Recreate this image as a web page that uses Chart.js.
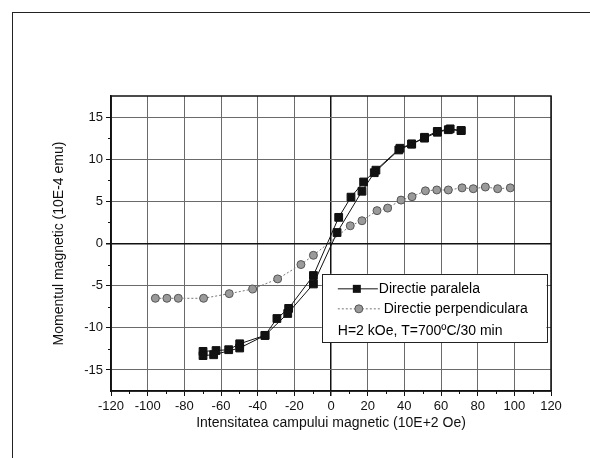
<!DOCTYPE html>
<html>
<head>
<meta charset="utf-8">
<script src="https://cdn.jsdelivr.net/npm/chart.js@4/dist/chart.umd.min.js"></script>
<style>
  html, body { margin: 0; padding: 0; background: #fff; }
  #wrap { position: relative; width: 590px; height: 458px; }
  #frameTop { position: absolute; left: 12px; top: 12px; width: 578px; height: 0; border-top: 1.5px solid #222; }
  #frameLeft { position: absolute; left: 12px; top: 12px; width: 0; height: 446px; border-left: 1.5px solid #222; }
  canvas { position: absolute; left: 0; top: 0; }
</style>
</head>
<body>
<div id="wrap">
  <canvas id="c" width="590" height="458"></canvas>
  <div id="frameTop"></div>
  <div id="frameLeft"></div>
</div>
<script>
// ---- data ----
const paralelaH = [71, 65, 58, 51, 44, 37.6, 24.5, 17.8, 10.9, 4.2, -9.6, -23.1, -29.5, -36, -49.8, -55.8, -62.7, -69.8,
                   -69.8, -64, -49.8, -36, -23.6, -9.6, 3.3, 16.9, 23.6, 37, 44, 51, 58, 64, 71];
const paralelaM = [13.4, 13.6, 13.3, 12.6, 11.8, 11.3, 8.7, 7.3, 5.5, 3.1, -3.8, -7.7, -8.9, -10.9, -11.9, -12.6, -12.7, -12.8,
                   -13.3, -13.2, -12.4, -10.9, -8.3, -4.8, 1.3, 6.2, 8.4, 11.1, 11.8, 12.5, 13.2, 13.5, 13.4];
const perpH = [-95.8, -89.5, -83.3, -69.5, -55.5, -42.7, -29.1, -16.4, -9.6, 10.5, 16.9, 25.1, 30.9, 38.2, 44.2, 51.5, 57.7, 64, 71.5, 77.6, 84.2, 90.9, 97.8];
const perpM = [-6.5, -6.5, -6.5, -6.5, -5.95, -5.4, -4.2, -2.5, -1.4, 2.1, 2.7, 3.9, 4.2, 5.15, 5.55, 6.25, 6.35, 6.35, 6.6, 6.5, 6.7, 6.5, 6.6];
const seriesNames = ['Directie paralela', 'Directie perpendiculara'];
const legendNote = 'H=2 kOe, T=700\u00BAC/30 min';
const xTitle = 'Intensitatea campului magnetic (10E+2 Oe)';
const yTitle = 'Momentul magnetic (10E-4 emu)';
const xTickValues = [-120, -100, -80, -60, -40, -20, 0, 20, 40, 60, 80, 100, 120];
const yTickValues = [-15, -10, -5, 0, 5, 10, 15];
const xMinorTicks = [-110, -90, -70, -50, -30, -10, 10, 30, 50, 70, 90, 110];
const yMinorTicks = [-12.5, -7.5, -2.5, 2.5, 7.5, 12.5];

const FONT = "'Liberation Sans', Arial, sans-serif";
const toPts = (xs, ys) => xs.map((x, i) => ({x: x, y: ys[i]}));

const framePlugin = {
  id: 'framePlugin',
  afterDraw(chart) {
    const ctx = chart.ctx, a = chart.chartArea;
    const xs = chart.scales.x, ys = chart.scales.y;
    ctx.save();
    ctx.strokeStyle = '#111';
    ctx.lineWidth = 1.5;
    ctx.strokeRect(a.left, a.top, a.right - a.left, a.bottom - a.top);
    ctx.lineWidth = 1;
    ctx.beginPath();
    xMinorTicks.forEach(v => {
      const p = Math.round(xs.getPixelForValue(v)) + 0.5;
      ctx.moveTo(p, a.bottom); ctx.lineTo(p, a.bottom + 3);
    });
    yMinorTicks.forEach(v => {
      const p = Math.round(ys.getPixelForValue(v)) + 0.5;
      ctx.moveTo(a.left, p); ctx.lineTo(a.left - 3, p);
    });
    ctx.stroke();

    // legend box inside plot
    const L = xs.getPixelForValue(-5), R = xs.getPixelForValue(117.5);
    const T = ys.getPixelForValue(-3.6), B = ys.getPixelForValue(-11.7);
    ctx.fillStyle = '#fff';
    ctx.fillRect(L, T, R - L, B - T);
    ctx.strokeStyle = '#222';
    ctx.lineWidth = 1;
    ctx.strokeRect(Math.round(L) + 0.5, Math.round(T) + 0.5, Math.round(R - L), Math.round(B - T));
    const ds = chart.data.datasets;
    const rowY = [T + 15, T + 35, T + 57];
    ctx.font = '14px ' + FONT;
    ctx.textBaseline = 'middle';
    ctx.textAlign = 'left';
    // row 1
    ctx.strokeStyle = ds[0].borderColor; ctx.lineWidth = 1; ctx.setLineDash([]);
    ctx.beginPath(); ctx.moveTo(L + 16, rowY[0]); ctx.lineTo(L + 56, rowY[0]); ctx.stroke();
    ctx.fillStyle = ds[0].pointBackgroundColor;
    const s = 4;
    ctx.fillRect(L + 35 - s, rowY[0] - s, 2 * s, 2 * s);
    ctx.fillStyle = '#000';
    ctx.fillText(ds[0].label, L + 57, rowY[0]);
    // row 2
    ctx.strokeStyle = ds[1].borderColor; ctx.setLineDash([2, 2]);
    ctx.beginPath(); ctx.moveTo(L + 16, rowY[1]); ctx.lineTo(L + 58, rowY[1]); ctx.stroke();
    ctx.setLineDash([]);
    ctx.fillStyle = ds[1].pointBackgroundColor; ctx.strokeStyle = ds[1].pointBorderColor;
    ctx.beginPath(); ctx.arc(L + 37, rowY[1], 4, 0, Math.PI * 2); ctx.fill(); ctx.stroke();
    ctx.fillStyle = '#000';
    ctx.fillText(' ' + ds[1].label, L + 58, rowY[1]);
    // row 3
    ctx.fillText(legendNote, L + 16, rowY[2]);
    ctx.restore();
  }
};

const gridColor = ctx => (ctx.tick && ctx.tick.value === 0) ? '#111' : '#6a6a6a';
const gridWidth = ctx => (ctx.tick && ctx.tick.value === 0) ? 1.5 : 1;

new Chart(document.getElementById('c'), {
  type: 'scatter',
  data: {
    datasets: [
      {
        label: seriesNames[0],
        data: toPts(paralelaH, paralelaM),
        showLine: true,
        borderColor: '#111',
        borderWidth: 1,
        pointStyle: 'rect',
        pointRadius: 5.5,
        pointBackgroundColor: '#111',
        pointBorderColor: '#111',
        pointBorderWidth: 1,
        tension: 0
      },
      {
        label: seriesNames[1],
        data: toPts(perpH, perpM),
        showLine: true,
        borderColor: '#777',
        borderWidth: 1,
        borderDash: [2, 2],
        pointStyle: 'circle',
        pointRadius: 4,
        pointBackgroundColor: '#9a9a9a',
        pointBorderColor: '#555',
        pointBorderWidth: 1,
        tension: 0
      }
    ]
  },
  options: {
    responsive: false,
    animation: false,
    devicePixelRatio: 1,
    layout: { padding: { left: 0, top: 96, right: 39, bottom: 0 } },
    plugins: { legend: { display: false }, tooltip: { enabled: false } },
    scales: {
      x: {
        type: 'linear',
        min: -120, max: 120,
        afterBuildTicks: s => { s.ticks = xTickValues.map(v => ({value: v})); },
        ticks: { color: '#111', font: { size: 13, family: FONT }, padding: 3, maxRotation: 0, autoSkip: false },
        grid: { color: gridColor, lineWidth: gridWidth, tickColor: '#111', tickLength: 5, drawTicks: true },
        border: { display: true, color: '#111', width: 1.5 },
        title: { display: true, text: xTitle, color: '#111', font: { size: 14, family: FONT }, padding: { top: 0, bottom: 26 } },
        afterFit: s => { s.height = 67; }
      },
      y: {
        type: 'linear',
        min: -17.5, max: 17.5,
        afterBuildTicks: s => { s.ticks = yTickValues.map(v => ({value: v})); },
        ticks: { color: '#111', font: { size: 13, family: FONT }, padding: 3, autoSkip: false },
        grid: { color: gridColor, lineWidth: gridWidth, tickColor: '#111', tickLength: 5, drawTicks: true },
        border: { display: true, color: '#111', width: 1.5 },
        title: { display: true, text: yTitle, color: '#111', font: { size: 14, family: FONT }, padding: { top: 51, bottom: 0 } },
        afterFit: s => { s.width = 111; }
      }
    }
  },
  plugins: [framePlugin]
});
</script>
</body>
</html>
